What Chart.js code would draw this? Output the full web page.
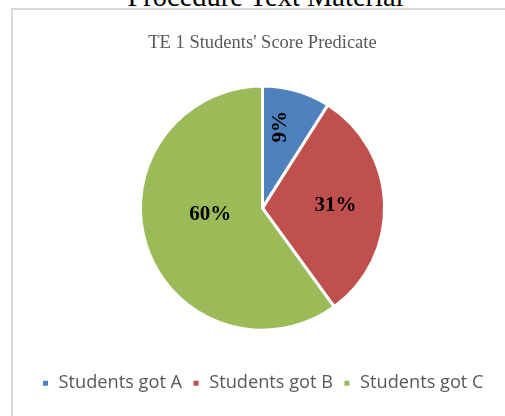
<!DOCTYPE html>
<html>
<head>
<meta charset="utf-8">
<script src="https://cdn.jsdelivr.net/npm/chart.js@4"></script>
<style>
  html, body { margin: 0; padding: 0; background: #fff; }
  body { width: 505px; height: 416px; position: relative; overflow: hidden; }
  #heading {
    position: absolute; left: 0; width: 531px; top: -17px;
    font: 28.5px "Liberation Serif", "Times New Roman", serif; line-height: 28.5px;
    text-align: center; color: #000;
  }
  #box {
    position: absolute; left: 11px; top: 8px; width: 600px; height: 500px;
    border: 2px solid #d9d9d9; background: #fff;
  }
  #wrap { position: absolute; left: 0; top: 0; width: 505px; height: 416px; }
</style>
</head>
<body>
<div id="heading">Procedure Text Material</div>
<div id="box"></div>
<div id="wrap"><canvas id="predicateChart"></canvas></div>
<script>
const chartTitle = "TE 1 Students' Score Predicate";
const categories = ["Students got A", "Students got B", "Students got C"];
const percentages = [9, 31, 60];
const sliceColors = ["#4f81bd", "#c0504d", "#9bbb59"];

// onde pôr cada rótulo: desvio do ângulo médio (graus), fração do raio, rotação
const labelPlacement = [
  { shift: -5, frac: 0.68, rotate: -90 },
  { shift: -1.7, frac: 0.60, rotate: 0 },
  { shift: 13, frac: 0.43, rotate: 0 }
];

const sliceLabels = {
  id: "sliceLabels",
  afterDatasetsDraw(chart) {
    const ctx = chart.ctx;
    const meta = chart.getDatasetMeta(0);
    meta.data.forEach((arc, i) => {
      const p = arc.getProps(["x", "y", "startAngle", "endAngle", "outerRadius"], true);
      const place = labelPlacement[i];
      const mid = (p.startAngle + p.endAngle) / 2 + place.shift * Math.PI / 180;
      const r = p.outerRadius * place.frac;
      const x = p.x + Math.cos(mid) * r;
      const y = p.y + Math.sin(mid) * r;
      ctx.save();
      ctx.translate(x, y);
      ctx.rotate(place.rotate * Math.PI / 180);
      ctx.font = "bold 21px 'Liberation Serif', 'Times New Roman', serif";
      ctx.fillStyle = "#000";
      ctx.textAlign = "center";
      ctx.textBaseline = "middle";
      ctx.fillText(percentages[i] + "%", 0, 1.5);
      ctx.restore();
    });
  }
};

document.addEventListener("DOMContentLoaded", () => {
  new Chart(document.getElementById("predicateChart"), {
    type: "pie",
    data: {
      labels: categories,
      datasets: [
        {
          data: percentages,
          backgroundColor: sliceColors,
          borderColor: "#ffffff",
          borderWidth: 3,
          hoverOffset: 0
        }
      ]
    },
    options: {
      responsive: true,
      maintainAspectRatio: false,
      animation: false,
      layout: { padding: { top: 0, bottom: 13.75, left: 20, right: 0 } },
      plugins: {
        title: {
          display: true,
          text: chartTitle,
          color: "#595959",
          font: { family: "'Liberation Serif', 'Times New Roman', serif", size: 18.5, weight: "normal" },
          padding: { top: 32, bottom: 30.3 }
        },
        legend: {
          position: "bottom",
          title: {
            display: true,
            text: "",
            font: { size: 1, lineHeight: 1 },
            padding: { top: 31.4, bottom: 0 }
          },
          labels: {
            boxWidth: 8,
            boxHeight: 8,
            color: "#595959",
            padding: 10,
            font: { family: "'Open Sans'", size: 18.2 }
          }
        },
        tooltip: { enabled: false }
      }
    },
    plugins: [sliceLabels]
  });
});
</script>
</body>
</html>
